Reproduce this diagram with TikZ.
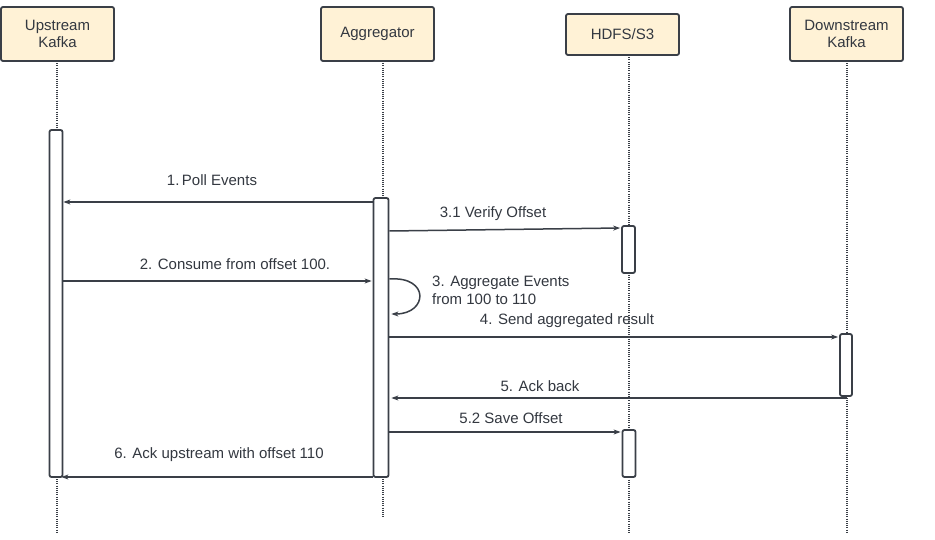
\documentclass[tikz,border=0pt]{standalone}
\usepackage{fontspec}
\setmainfont{Liberation Sans}
\usetikzlibrary{arrows.meta}
\definecolor{ln}{HTML}{3A3F47}
\definecolor{txt}{HTML}{333840}
\definecolor{hdr}{HTML}{FFF2D6}
\tikzset{
  hdrbox/.style={draw=ln, fill=hdr, line width=1.8pt, rounded corners=2pt, minimum width=113pt, align=center, font=\fontsize{15}{18}\selectfont, text=txt, inner sep=0pt},
  actbar/.style={draw=ln, fill=white, line width=1.8pt, rounded corners=2pt, inner sep=0pt, minimum width=13pt},
  life/.style={draw=ln, line width=1.1pt, dash pattern=on 1pt off 1.2pt},
  msg/.style={draw=ln, line width=1.5pt, -{Stealth[length=7pt,width=5pt]}},
  lbl/.style={text=txt, font=\fontsize{15}{18}\selectfont, inner sep=0pt}
}
\begin{document}
\begin{tikzpicture}[x=1pt,y=-1pt]
\path[use as bounding box, fill=white] (0,0) rectangle (935,540);
% headers
\node[hdrbox, minimum height=54pt] (hup) at (57.5,34) {Upstream\\[-1pt]Kafka};
\node[hdrbox, minimum height=54pt] (hagg) at (377.5,34) {Aggregator};
\node[hdrbox, minimum height=41pt] (hhd) at (622.5,34.5) {HDFS/S3};
\node[hdrbox, minimum height=54pt] (hdn) at (846.5,34) {Downstream\\[-1pt]Kafka};
% lifelines
\coordinate (eup) at (57,532);
\coordinate (eagg) at (383,518);
\coordinate (ehd) at (629,533);
\coordinate (edn) at (847,532);
\draw[life] (57,61) -- (eup);
\draw[life] (383,61) -- (eagg);
\draw[life] (629,55) -- (ehd);
\draw[life] (847,61) -- (edn);
% activation bars
\node[actbar, minimum height=347pt] (aup) at (56,303.5) {};
\node[actbar, minimum width=15pt, minimum height=279pt] (aagg) at (381,337.5) {};
\node[actbar, minimum height=47pt] (ahd1) at (628.5,249.5) {};
\node[actbar, minimum height=47pt] (ahd2) at (629,453.5) {};
\node[actbar, minimum width=12pt, minimum height=62pt] (adn) at (846,365) {};
% messages
\draw[msg] (aagg.west |- 0,202) -- (aup.east |- 0,202);
\node[lbl] (l1) at (212,180) {1.\,Poll Events};
\draw[msg] (aagg.east |- 0,231) -- ([xshift=-1pt]ahd1.west |- 0,228);
\node[lbl] (l31) at (493,214) {3.1 Verify Offset};
\draw[msg] (aup.east |- 0,281) -- ([xshift=-1pt]aagg.west |- 0,281);
\node[lbl] (l2) at (235,264) {2. Consume from offset 100.};
\coordinate (s1) at (aagg.east |- 0,279);
\coordinate (s2) at ([xshift=2pt]aagg.east |- 0,314);
\draw[msg] (s1) .. controls (430,276) and (428,314) .. (s2);
\node[lbl, anchor=west, align=left] (l3) at (432,290) {3. Aggregate Events\\from 100 to 110};
\draw[msg] (aagg.east |- 0,337) -- ([xshift=-1pt]adn.west |- 0,337);
\node[lbl] (l4) at (567,321) {4. Send aggregated result};
\draw[msg] (edn |- 0,398) -- ([xshift=2pt]aagg.east |- 0,398);
\node[lbl] (l5) at (540,386) {5. Ack back};
\draw[msg] (aagg.east |- 0,432) -- ([xshift=-1pt]ahd2.west |- 0,432);
\node[lbl] (l52) at (511,418) {5.2 Save Offset};
\draw[msg] (aagg.west |- 0,477) -- ([xshift=-2pt]aup.east |- 0,477);
\node[lbl] (l6) at (219,455) {6. Ack upstream with offset 110};
\end{tikzpicture}
\end{document}
